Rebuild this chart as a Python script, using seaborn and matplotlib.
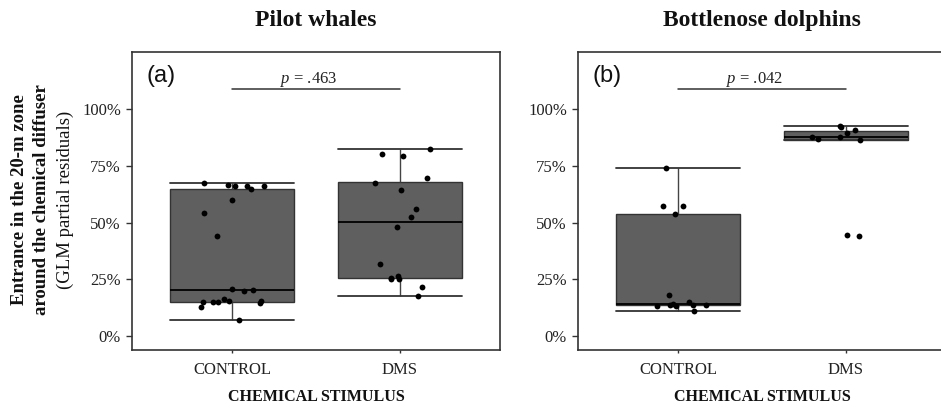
import numpy as np
import pandas as pd
import matplotlib
matplotlib.use("Agg")
import matplotlib.pyplot as plt
from matplotlib.ticker import PercentFormatter
import seaborn as sns

# ---------------- data ----------------
stimuli = ["CONTROL", "DMS"]
panel_titles = ["Pilot whales", "Bottlenose dolphins"]
panel_tags = ["(a)", "(b)"]
p_labels = [".463", ".042"]

pw_control = [0.675, 0.646, 0.664, 0.661, 0.661, 0.661, 0.599, 0.542, 0.442,
              0.206, 0.200, 0.204, 0.162, 0.153, 0.153, 0.148, 0.153, 0.157,
              0.157, 0.129, 0.073]
pw_dms = [0.822, 0.800, 0.791, 0.696, 0.673, 0.642, 0.561, 0.526, 0.480,
          0.319, 0.250, 0.257, 0.264, 0.253, 0.219, 0.176]
bd_control = [0.740, 0.572, 0.572, 0.537, 0.182, 0.151, 0.140, 0.132, 0.140,
              0.144, 0.140, 0.135, 0.113]
bd_dms = [0.924, 0.921, 0.907, 0.893, 0.878, 0.877, 0.868, 0.863, 0.445, 0.440]

y_ticks = [0, 0.25, 0.5, 0.75, 1.0]

groups = [(pw_control, pw_dms), (bd_control, bd_dms)]

# ---------------- style ----------------
sns.set_theme(style="ticks")
plt.rcParams["font.family"] = ["Liberation Serif", "DejaVu Serif"]
plt.rcParams["mathtext.fontset"] = "custom"
plt.rcParams["mathtext.it"] = "Liberation Serif:italic"
plt.rcParams["mathtext.rm"] = "Liberation Serif"
plt.rcParams["axes.edgecolor"] = "#333333"
plt.rcParams["xtick.color"] = "#333333"
plt.rcParams["ytick.color"] = "#333333"
plt.rcParams["xtick.labelcolor"] = "#222222"
plt.rcParams["ytick.labelcolor"] = "#222222"

np.random.seed(7)

W, H = 941, 408
fig = plt.figure(figsize=(W / 100, H / 100), dpi=100)
ax_w, ax_h = 368 / W, 298 / H
ax_bottom = (H - 350) / H
lefts = [132 / W, 578 / W]

box_fill = "#5f5f5f"
line_col = "#2a2a2a"

for i, (ctrl, dms) in enumerate(groups):
    ax = fig.add_axes([lefts[i], ax_bottom, ax_w, ax_h])
    df = pd.DataFrame({
        "stimulus": ["CONTROL"] * len(ctrl) + ["DMS"] * len(dms),
        "value": list(ctrl) + list(dms),
    })
    sns.boxplot(data=df, x="stimulus", y="value", order=stimuli, ax=ax,
                color=box_fill, saturation=1, width=0.74, showfliers=False,
                linecolor=line_col, linewidth=1.0, whis=1.5,
                capwidths=0.74,
                medianprops=dict(color="black", linewidth=1.3),
                whiskerprops=dict(color="#444444", linewidth=1.0),
                capprops=dict(color="#333333", linewidth=1.3),
                boxprops=dict(edgecolor="#333333", linewidth=1.0))
    sns.stripplot(data=df, x="stimulus", y="value", order=stimuli, ax=ax,
                  color="black", size=4.2, jitter=0.2, linewidth=0)

    ax.set_xlim(-0.6, 1.6)
    ax.set_ylim(-0.06, 1.25)
    ax.set_yticks(y_ticks)
    ax.yaxis.set_major_formatter(PercentFormatter(xmax=1, decimals=0))
    ax.tick_params(axis="y", length=4, width=1, labelsize=12, pad=4)
    ax.tick_params(axis="x", length=2.5, width=1, labelsize=12, pad=6)
    for s in ax.spines.values():
        s.set_visible(True)
        s.set_linewidth(1.2)
        s.set_color("#333333")
    ax.set_ylabel("")
    ax.set_xlabel("CHEMICAL STIMULUS", fontsize=11.5, fontweight="bold",
                  labelpad=8, color="#111111")
    ax.set_title(panel_titles[i], fontsize=17, fontweight="bold", pad=18.5,
                 color="#111111")

    # significance bar
    ax.plot([0, 1], [1.086, 1.086], color="#333333", linewidth=1.1)
    ax.text(0.455, 1.115, "$\\it{p}$ = " + p_labels[i], ha="center",
            va="baseline", fontsize=12, color="#222222")
    ax.text(0.04, 0.92, panel_tags[i], transform=ax.transAxes, ha="left",
            va="center", fontsize=17, family=["Liberation Sans", "DejaVu Sans"],
            color="#111111")

# y label (three lines)
ycen = 1 - 200 / H
fig.text(20 / W, ycen, "Entrance in the 20-m zone", rotation=90, ha="center",
         va="center", fontsize=13.5, fontweight="bold", color="#111111")
fig.text(42 / W, ycen, "around the chemical diffuser", rotation=90,
         ha="center", va="center", fontsize=13.5, fontweight="bold",
         color="#111111")
fig.text(65 / W, ycen, "(GLM partial residuals)", rotation=90, ha="center",
         va="center", fontsize=13.5, color="#111111")

fig.savefig("out.png", dpi=100)
